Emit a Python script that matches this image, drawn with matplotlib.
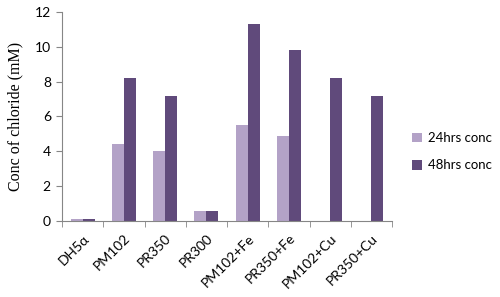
import matplotlib
matplotlib.use("Agg")
import matplotlib.pyplot as plt
import numpy as np

categories = ["DH5α", "PM102", "PR350", "PR300", "PM102+Fe", "PR350+Fe", "PM102+Cu", "PR350+Cu"]
conc_24h = [0.1, 4.4, 4.0, 0.6, 5.5, 4.9, 0.0, 0.0]
conc_48h = [0.1, 8.2, 7.2, 0.6, 11.3, 9.8, 8.2, 7.2]
series_names = ["24hrs conc", "48hrs conc"]
yticks = [0, 2, 4, 6, 8, 10, 12]

SANS = ["Lato", "DejaVu Sans"]

fig = plt.figure(figsize=(5.0, 2.97), dpi=100)
ax = fig.add_axes([0.124, 0.256, 0.66, 0.704])

x = np.arange(len(categories))
w = 0.29
c1, c2 = "#B3A2C7", "#604A7B"
ax.bar(x - w/2, conc_24h, w, color=c1, label=series_names[0])
ax.bar(x + w/2, conc_48h, w, color=c2, label=series_names[1])

ax.set_xlim(-0.5, len(categories) - 0.5)
ax.set_ylim(0, 12)
ax.set_yticks(yticks)
ax.set_yticklabels([str(t) for t in yticks], fontfamily=SANS, fontsize=10)
ax.set_xticks(x)
ax.set_xticklabels(categories, rotation=45, ha="right", rotation_mode="anchor",
                   fontfamily=SANS, fontsize=10)
ax.tick_params(axis="x", length=0, pad=8)
ax.set_xticks(np.arange(-0.5, len(categories)), minor=True)
ax.tick_params(axis="x", which="minor", length=4, color="#868686")
ax.tick_params(axis="y", length=4, color="#868686", pad=4)

for s in ["top", "right"]:
    ax.spines[s].set_visible(False)
for s in ["left", "bottom"]:
    ax.spines[s].set_color("#868686")
    ax.spines[s].set_linewidth(0.8)

ax.set_ylabel("Conc of chloride (mM)", fontfamily="Liberation Serif", fontsize=11.5, labelpad=8)

leg = fig.legend(loc="upper left", bbox_to_anchor=(0.824, 0.555), frameon=False,
                 borderpad=0, borderaxespad=0,
                 prop={"family": SANS, "size": 9.5}, handlelength=0.75,
                 handleheight=0.75, handletextpad=0.5, labelspacing=1.15)

fig.savefig("out.png", dpi=100)
